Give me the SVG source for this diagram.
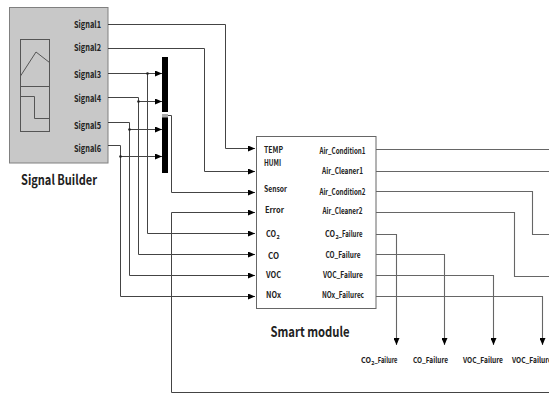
<svg xmlns="http://www.w3.org/2000/svg" width="549" height="394" viewBox="0 0 549 394">
<style>
.lbl{font-family:"Noto Sans CJK KR","Noto Sans",sans-serif;font-weight:bold;fill:#222;}
.sig{font-size:9.5px;text-anchor:end;}
.mod{font-size:8.5px;}
.out{font-size:8.5px;text-anchor:middle;}
.bot{font-size:8px;text-anchor:middle;}
.sub{font-size:5.5px;}
.title{font-size:14px;text-anchor:middle;}
.win{fill:none;stroke:#444;stroke-width:1;}
.wout{fill:none;stroke:#666;stroke-width:1.1;}
</style>
<defs>
<marker id="ah" markerUnits="userSpaceOnUse" markerWidth="7" markerHeight="6" refX="7" refY="3" orient="auto">
<path d="M0,0 L7,3 L0,6 z" fill="#000"/>
</marker>
</defs>
<g id="signal-builder">
<rect x="9.5" y="7.5" width="98.5" height="155.5" fill="#c8c8c8" stroke="#808080" stroke-width="1"/>
<rect x="20.5" y="39.5" width="29" height="92" fill="none" stroke="#555" stroke-width="1"/>
<line x1="20.5" y1="86.5" x2="49.5" y2="86.5" stroke="#555" stroke-width="1"/>
<polyline points="20.5,76 36,52 49.5,62.5" fill="none" stroke="#555" stroke-width="1"/>
<polyline points="20.5,96.5 34.5,96.5 34.5,118.5 49.5,118.5" fill="none" stroke="#555" stroke-width="1"/>
<text class="lbl sig" x="101" y="28" textLength="27" lengthAdjust="spacingAndGlyphs">Signal1</text>
<text class="lbl sig" x="101" y="51" textLength="27" lengthAdjust="spacingAndGlyphs">Signal2</text>
<text class="lbl sig" x="101" y="78" textLength="27" lengthAdjust="spacingAndGlyphs">Signal3</text>
<text class="lbl sig" x="101" y="102" textLength="27" lengthAdjust="spacingAndGlyphs">Signal4</text>
<text class="lbl sig" x="101" y="129" textLength="27" lengthAdjust="spacingAndGlyphs">Signal5</text>
<text class="lbl sig" x="101" y="152" textLength="27" lengthAdjust="spacingAndGlyphs">Signal6</text>
<text class="lbl title" x="59" y="185" textLength="76" lengthAdjust="spacingAndGlyphs">Signal Builder</text>
</g>
<g id="mux">
<rect x="162" y="57" width="6" height="116" fill="#000"/>
<rect x="162" y="112" width="6" height="2" fill="#fff"/>
<rect x="162" y="114" width="6" height="3.5" fill="#aaa"/>
</g>
<g id="smart-module">
<rect x="256.5" y="136.5" width="119.5" height="172" fill="#fff" stroke="#666" stroke-width="1"/>
<text class="lbl mod" x="264" y="153" textLength="19" lengthAdjust="spacingAndGlyphs">TEMP</text>
<text class="lbl mod" x="264" y="166" textLength="17" lengthAdjust="spacingAndGlyphs">HUMI</text>
<text class="lbl mod" x="264" y="192" textLength="23" lengthAdjust="spacingAndGlyphs">Sensor</text>
<text class="lbl mod" x="265" y="213" textLength="19" lengthAdjust="spacingAndGlyphs">Error</text>
<text class="lbl mod" x="266" y="237" textLength="10" lengthAdjust="spacingAndGlyphs">CO</text>
<text class="lbl sub" x="276.5" y="239">2</text>
<text class="lbl mod" x="268" y="259" textLength="11" lengthAdjust="spacingAndGlyphs">CO</text>
<text class="lbl mod" x="266" y="278" textLength="15" lengthAdjust="spacingAndGlyphs">VOC</text>
<text class="lbl mod" x="266" y="298" textLength="15" lengthAdjust="spacingAndGlyphs">NOx</text>
<text class="lbl out" x="342.5" y="154" textLength="46" lengthAdjust="spacingAndGlyphs">Air_Condition1</text>
<text class="lbl out" x="342.5" y="174" textLength="41" lengthAdjust="spacingAndGlyphs">Air_Cleaner1</text>
<text class="lbl out" x="342.5" y="195" textLength="46" lengthAdjust="spacingAndGlyphs">Air_Condition2</text>
<text class="lbl out" x="342.5" y="214" textLength="40" lengthAdjust="spacingAndGlyphs">Air_Cleaner2</text>
<text class="lbl mod" x="325" y="237" textLength="10" lengthAdjust="spacingAndGlyphs">CO</text>
<text class="lbl sub" x="335.5" y="239">2</text>
<text class="lbl mod" x="338.5" y="237" textLength="24" lengthAdjust="spacingAndGlyphs">_Failure</text>
<text class="lbl out" x="343" y="258" textLength="35" lengthAdjust="spacingAndGlyphs">CO_Failure</text>
<text class="lbl out" x="343" y="278" textLength="40" lengthAdjust="spacingAndGlyphs">VOC_Failure</text>
<text class="lbl out" x="343" y="298" textLength="42" lengthAdjust="spacingAndGlyphs">NOx_Failurec</text>
<text class="lbl title" x="310" y="337" textLength="79" lengthAdjust="spacingAndGlyphs">Smart module</text>
</g>
<g id="outputs">
<text class="lbl" font-size="8px" x="361" y="363" textLength="10" lengthAdjust="spacingAndGlyphs">CO</text>
<text class="lbl sub" font-size="5px" x="371.3" y="365">2</text>
<text class="lbl" font-size="8px" x="374.5" y="363" textLength="23" lengthAdjust="spacingAndGlyphs">_Failure</text>
<text class="lbl bot" x="430.5" y="363" textLength="35" lengthAdjust="spacingAndGlyphs">CO_Failure</text>
<text class="lbl bot" x="483" y="363" textLength="40" lengthAdjust="spacingAndGlyphs">VOC_Failure</text>
<text class="lbl bot" x="532" y="363" textLength="40" lengthAdjust="spacingAndGlyphs">VOC_Failure</text>
</g>
<g id="connectors">
<path class="win" d="M108,24.5 H225.5 V148.5 H255" marker-end="url(#ah)"/>
<path class="win" d="M108,48.5 H204.5 V171.5 H255" marker-end="url(#ah)"/>
<path class="win" d="M108,73.5 H162" marker-end="url(#ah)"/>
<path class="win" d="M147.5,73.5 V233.5 H255" marker-end="url(#ah)"/>
<path class="win" d="M108,97.5 H138.5 V254.5 H255" marker-end="url(#ah)"/>
<path class="win" d="M138.5,101.5 H162" marker-end="url(#ah)"/>
<path class="win" d="M108,122.5 H129.5 V275.5 H255" marker-end="url(#ah)"/>
<path class="win" d="M129.5,129.5 H162" marker-end="url(#ah)"/>
<path class="win" d="M108,145.5 H120.5 V296.5 H255" marker-end="url(#ah)"/>
<path class="win" d="M120.5,156.5 H162" marker-end="url(#ah)"/>
<path class="win" d="M168,115.5 H171.5 V192.5 H255" marker-end="url(#ah)"/>
<path class="win" d="M549,392.5 H171.5 V212.5 H255" marker-end="url(#ah)"/>
<circle cx="147.5" cy="73.5" r="1.3" fill="#222"/>
<circle cx="138.5" cy="101.5" r="1.3" fill="#222"/>
<circle cx="129.5" cy="129.5" r="1.3" fill="#222"/>
<circle cx="120.5" cy="156.5" r="1.3" fill="#222"/>
<path class="wout" d="M376,149.5 H549"/>
<path class="wout" d="M376,171.5 H549"/>
<path class="wout" d="M376,191.5 H532.5 V234.5 H549"/>
<path class="wout" d="M376,212.5 H514.5 V276.5 H549"/>
<path class="wout" d="M376,234.5 H396.5 V345" marker-end="url(#ah)"/>
<path class="wout" d="M376,254.5 H444.5 V345" marker-end="url(#ah)"/>
<path class="wout" d="M376,275.5 H493.5 V345" marker-end="url(#ah)"/>
<path class="wout" d="M376,296.5 H542.5 V345" marker-end="url(#ah)"/>
</g>
</svg>
